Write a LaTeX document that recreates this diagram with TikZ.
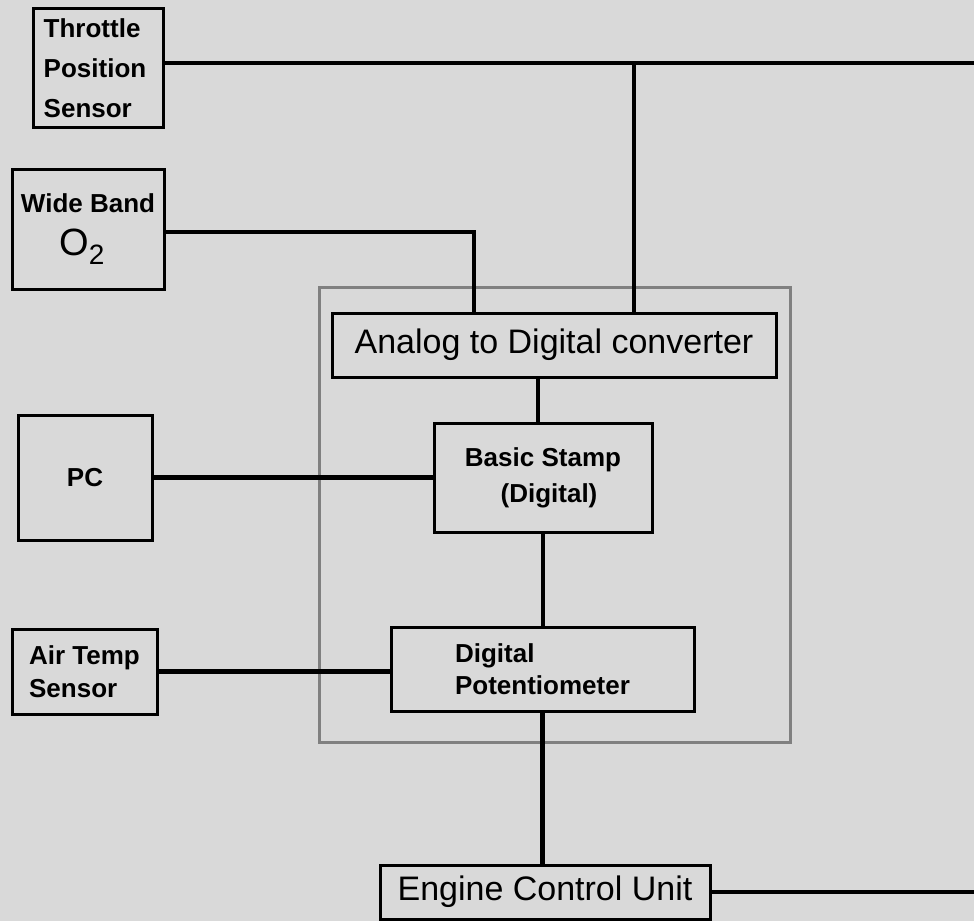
\documentclass[tikz,border=0pt]{standalone}
\usepackage{fontspec}
\setmainfont{Liberation Sans}
\definecolor{bg}{RGB}{217,217,217}
\definecolor{frame}{RGB}{128,128,128}
\begin{document}
\begin{tikzpicture}[x=1pt,y=-1pt,
  box/.style={draw=black, line width=3pt, inner sep=0pt},
  conn/.style={draw=black, line width=4.5pt, line join=miter},
  smallb/.style={font=\fontsize{26}{33}\selectfont\bfseries},
  big/.style={font=\fontsize{34}{38}\selectfont}]
\fill[bg] (0,0) rectangle (974,921);
\useasboundingbox (0,0) rectangle (974,921);

% board frame
\node[draw=frame, line width=3pt, minimum width=471pt, minimum height=455pt, inner sep=0pt] (board) at (554.5,514.5) {};

% sensor / peripheral boxes
\node[box, minimum width=130pt, minimum height=119pt, align=left, font=\fontsize{26}{40}\selectfont\bfseries] (tps) at (98,68) {\hspace*{-6pt}Throttle\\\hspace*{-6pt}Position\\\hspace*{-6pt}Sensor};
\node[box, minimum width=152pt, minimum height=120pt, align=center, font=\fontsize{26}{43}\selectfont\bfseries] (wb) at (88,229) {Wide Band\\{\mdseries\fontsize{38}{38}\selectfont O}\raisebox{-9pt}{\mdseries\fontsize{28}{28}\selectfont 2}\hspace*{12pt}};
\node[box, minimum width=134pt, minimum height=125pt, smallb] (pc) at (85,477.5) {PC};
\node[box, minimum width=145pt, minimum height=85pt, smallb, align=left] (air) at (84.5,671.5) {Air Temp\\Sensor};

% board contents
\node[box, minimum width=444pt, minimum height=64pt, big] (adc) at (554,345) {Analog to Digital converter};
\node[box, minimum width=218pt, minimum height=109pt, align=center, font=\fontsize{26}{36}\selectfont\bfseries] (bs) at (543,477.5) {Basic Stamp\\\hspace*{12pt}(Digital)};
\node[box, minimum width=303pt, minimum height=84pt, align=left, font=\fontsize{26}{32}\selectfont\bfseries] (dp) at (542.5,669) {Digital\\Potentiometer};
\node[box, minimum width=330pt, minimum height=54pt, big] (ecu) at (545,892) {Engine Control Unit};

% free ends and junctions
\coordinate (tpsend) at (974,63);
\coordinate (tpsj) at (634,63);
\coordinate (wbj) at (474,232);
\coordinate (ecuend) at (974,892);

% connectors
\draw[conn] (tps.east |- tpsend) -- (tpsend);
\draw[conn] (tpsj) -- (tpsj |- adc.north);
\draw[conn] (wb.east |- wbj) -- (wbj) -- (wbj |- adc.north);
\draw[conn] ([xshift=-5pt]bs.north) -- ([xshift=-5pt]bs.north |- adc.south);
\draw[conn] (bs.south) -- (bs.south |- dp.north);
\draw[conn] (dp.south) -- (dp.south |- ecu.north);
\draw[conn] (pc.east) -- (pc.east -| bs.west);
\draw[conn] (air.east) -- (air.east -| dp.west);
\draw[conn] (ecu.east) -- (ecuend);
\end{tikzpicture}
\end{document}
